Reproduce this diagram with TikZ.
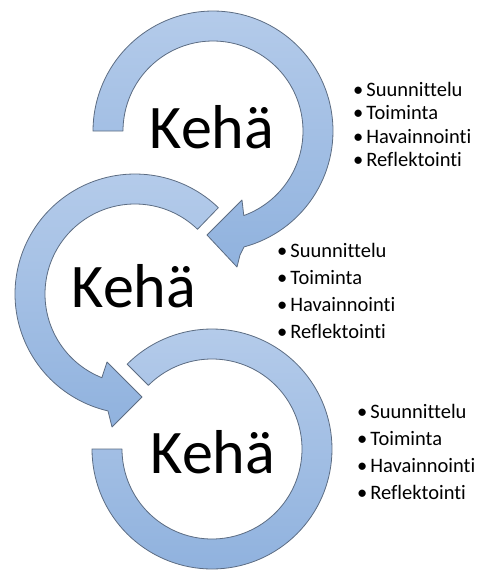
\documentclass[tikz,border=0pt]{standalone}
\usepackage{fontspec}
\setmainfont{Carlito}[Ligatures={NoCommon,NoContextual,NoRare}]
\definecolor{ringline}{RGB}{92,108,130}
\definecolor{ringtop}{RGB}{180,203,234}
\definecolor{ringbot}{RGB}{144,178,222}
\newcommand{\bul}{•\kern3pt}
\begin{document}
\begin{tikzpicture}[x=1pt,y=-1pt,
  ring/.style={draw=ringline, line width=0.8pt, line join=round,
    top color=ringtop, bottom color=ringbot},
  big/.style={font=\fontsize{62}{62}\selectfont, anchor=base, inner sep=0pt},
  item/.style={font=\fontsize{20.5}{24}\selectfont, anchor=base west, inner sep=0pt}]
\useasboundingbox (0,0) rectangle (478,571);

% first loop: clockwise arc ending in an arrowhead
\path[ring]
  plot[domain=180:435, samples=100] ({213+120*cos(\x)},{131+120*sin(\x)})
  -- (240,255) -- (237,267) -- (207,235) -- (242,200)
  -- plot[domain=430:180, samples=100] ({213+90*cos(\x)},{131+90*sin(\x)})
  -- cycle;

% second loop: counter-clockwise arc ending in an arrowhead
\path[ring]
  plot[domain=-46:-257, samples=100] ({135+120*cos(\x)},{294+120*sin(\x)})
  -- (112,427) -- (142,397) -- (107,362)
  -- plot[domain=-248.4:-46, samples=100] ({135+90*cos(\x)},{294+90*sin(\x)})
  -- cycle;

% third loop: plain arc, no arrowhead
\path[ring]
  plot[domain=225:540, samples=120] ({212+120*cos(\x)},{449+120*sin(\x)})
  -- plot[domain=540:225, samples=120] ({212+90*cos(\x)},{449+90*sin(\x)})
  -- cycle;

% loop titles
\node[big] (k1) at (212,148) {Kehä};
\node[big] (k2) at (134,307) {Kehä};
\node[big] (k3) at (213,473) {Kehä};

% bullet lists
\node[item] (s1a) at (353,96)  {\bul Suunnittelu};
\node[item] (s1b) at (353,119) {\bul Toiminta};
\node[item] (s1c) at (353,143) {\bul Havainnointi};
\node[item] (s1d) at (353,166) {\bul Reflektointi};

\node[item] (s2a) at (277,257) {\bul Suunnittelu};
\node[item] (s2b) at (277,284) {\bul Toiminta};
\node[item] (s2c) at (277,311) {\bul Havainnointi};
\node[item] (s2d) at (277,338) {\bul Reflektointi};

\node[item] (s3a) at (357,418) {\bul Suunnittelu};
\node[item] (s3b) at (357,445) {\bul Toiminta};
\node[item] (s3c) at (357,472) {\bul Havainnointi};
\node[item] (s3d) at (357,499) {\bul Reflektointi};
\end{tikzpicture}
\end{document}
